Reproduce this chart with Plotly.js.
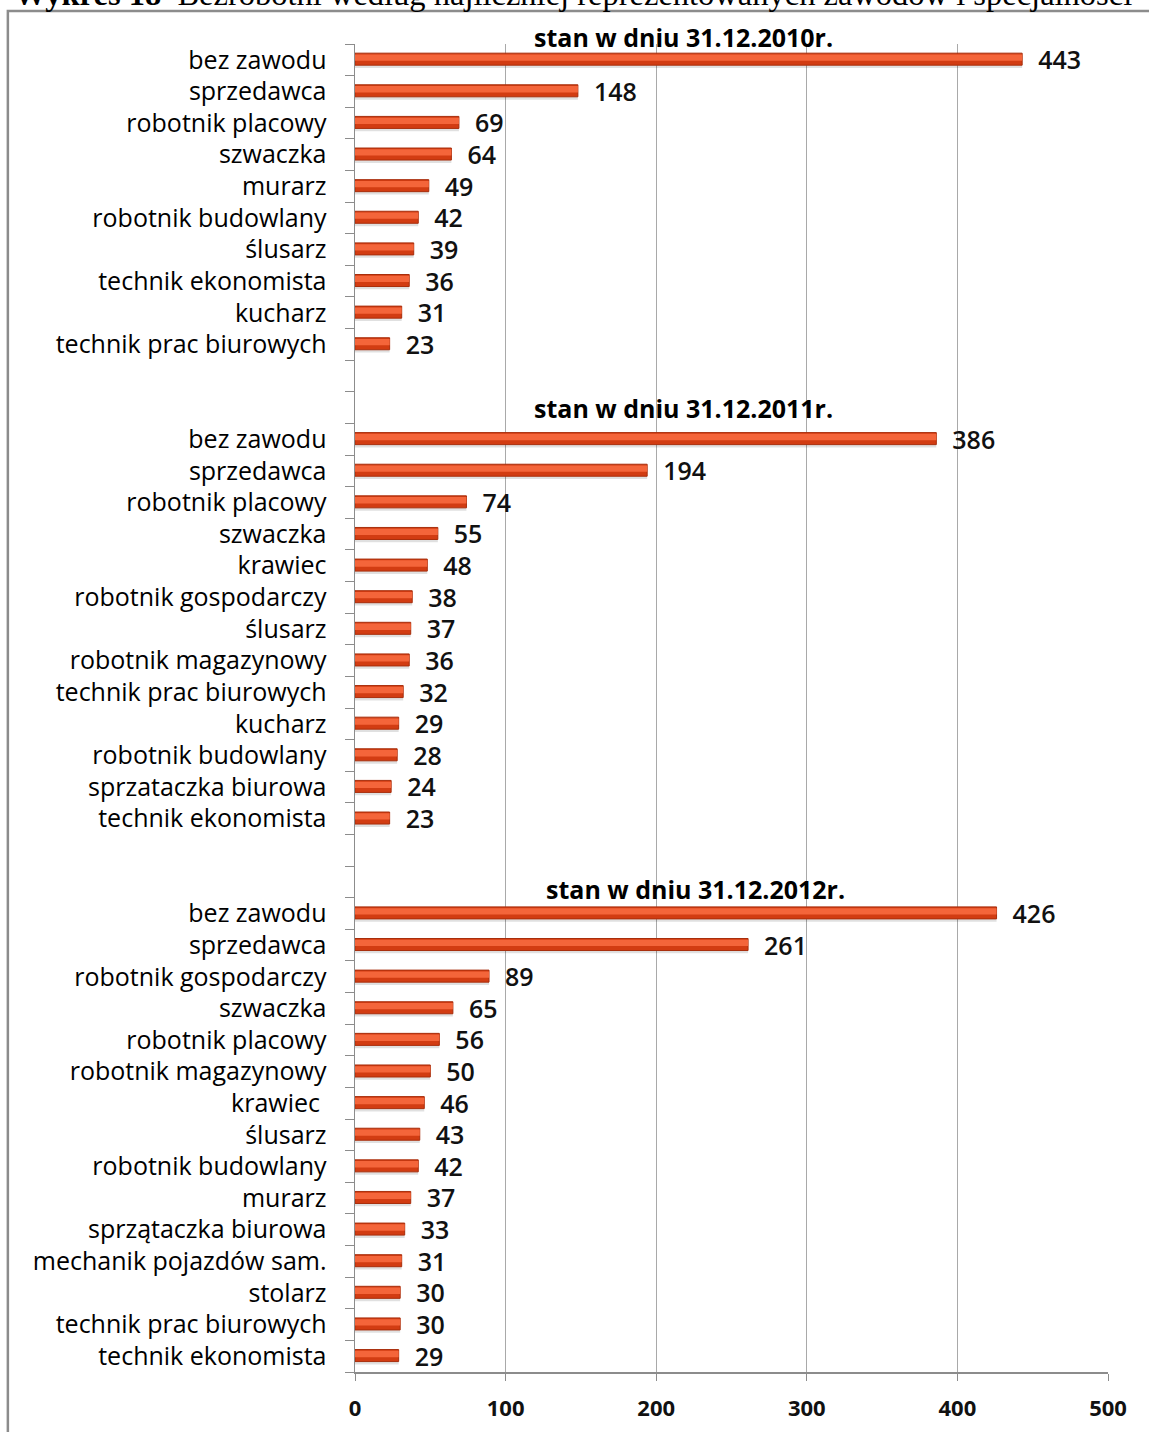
<!DOCTYPE html>
<html>
<head>
<meta charset="utf-8">
<script src="https://cdn.plot.ly/plotly-3.0.1.min.js"></script>
<style>
  html, body { margin: 0; padding: 0; background: #ffffff; }
  #chart { width: 1149px; height: 1432px; }
</style>
</head>
<body>
<div id="chart"></div>
<script>
  const blockTitles = [
    "stan w dniu 31.12.2010r.",
    "stan w dniu 31.12.2011r.",
    "stan w dniu 31.12.2012r."
  ];

  const occ2010 = ["bez zawodu", "sprzedawca", "robotnik placowy", "szwaczka", "murarz",
    "robotnik budowlany", "ślusarz", "technik ekonomista", "kucharz", "technik prac biurowych"];
  const val2010 = [443, 148, 69, 64, 49, 42, 39, 36, 31, 23];

  const occ2011 = ["bez zawodu", "sprzedawca", "robotnik placowy", "szwaczka", "krawiec",
    "robotnik gospodarczy", "ślusarz", "robotnik magazynowy", "technik prac biurowych",
    "kucharz", "robotnik budowlany", "sprzataczka biurowa", "technik ekonomista"];
  const val2011 = [386, 194, 74, 55, 48, 38, 37, 36, 32, 29, 28, 24, 23];

  const occ2012 = ["bez zawodu", "sprzedawca", "robotnik gospodarczy", "szwaczka",
    "robotnik placowy", "robotnik magazynowy", "krawiec ", "ślusarz", "robotnik budowlany",
    "murarz", "sprzątaczka biurowa", "mechanik pojazdów sam.", "stolarz",
    "technik prac biurowych", "technik ekonomista"];
  const val2012 = [426, 261, 89, 65, 56, 50, 46, 43, 42, 37, 33, 31, 30, 30, 29];

  const xTicks = [0, 100, 200, 300, 400, 500];
  const gapRows = 2;

  const blocks = [
    { names: occ2010, values: val2010 },
    { names: occ2011, values: val2011 },
    { names: occ2012, values: val2012 }
  ];

  // lay the three periods out on one numeric category axis, with empty rows between
  const rowY = [];
  const rowX = [];
  const tickVals = [];
  const tickText = [];
  const blockStart = [];
  let row = 0;
  blocks.forEach((b, bi) => {
    if (bi > 0) row += gapRows;
    blockStart.push(row);
    b.names.forEach((name, i) => {
      rowY.push(row);
      rowX.push(b.values[i]);
      tickVals.push(row);
      tickText.push(name);
      row++;
    });
  });
  const nRows = row;

  const labelFont = { family: "Open Sans, sans-serif", size: 25, color: "#000000", weight: 500 };

  const shadow = {
    type: "bar", orientation: "h",
    x: rowX, y: rowY,
    width: 0.38, offset: -0.12,
    marker: { color: "rgba(0,0,0,0.12)", line: { width: 0 } },
    hoverinfo: "skip", showlegend: false
  };

  const bars = {
    type: "bar", orientation: "h",
    x: rowX, y: rowY,
    width: 0.38, offset: -0.21,
    marker: { color: "#d23c12", line: { color: "#a82e0c", width: 1 } },
    text: rowX.map(v => "\u00a0\u00a0" + v),
    textposition: "outside",
    constraintext: "none",
    cliponaxis: false,
    textfont: { family: "Open Sans, sans-serif", size: 25, color: "#111111", weight: 600 },
    hovertemplate: "%{x}<extra></extra>",
    showlegend: false
  };

  const shine = {
    type: "bar", orientation: "h",
    x: rowX, y: rowY,
    width: 0.2, offset: -0.17,
    marker: { color: "#f4653a", line: { width: 0 } },
    hoverinfo: "skip", showlegend: false
  };

  // period headings sit on the empty rows (first one above the plot area)
  const rowToPaper = r => 1 - (r + 0.5) / nRows;
  const titleOffsets = [-0.72, -1.0, -0.76];
  const titleX = [218, 218, 226];
  const annotations = blockTitles.map((t, i) => ({
    text: "<b>" + t + "</b>",
    x: titleX[i], y: rowToPaper(blockStart[i] + titleOffsets[i]),
    xref: "x", yref: "paper",
    xanchor: "center", yanchor: "middle",
    showarrow: false,
    font: { family: "Open Sans, sans-serif", size: 25, color: "#000000" }
  }));

  // page heading, mostly cut off by the top edge like in the scan
  annotations.push({
    text: "<b>Wykres 18</b>  Bezrobotni według najliczniej reprezentowanych zawodów i specjalności",
    xref: "paper", yref: "paper",
    x: -0.455, y: 1.0,
    xanchor: "left", yanchor: "bottom",
    yshift: 30,
    showarrow: false,
    font: { family: "Liberation Serif, Times New Roman, serif", size: 32.5, color: "#000000" }
  });

  const layout = {
    width: 1149,
    height: 1432,
    margin: { l: 355, r: 41, t: 44, b: 60 },
    paper_bgcolor: "#ffffff",
    plot_bgcolor: "#ffffff",
    barmode: "overlay",
    showlegend: false,
    xaxis: {
      range: [0, 500],
      tickvals: xTicks,
      ticktext: xTicks.map(String),
      showgrid: true,
      gridcolor: "#a9a9a9",
      gridwidth: 1,
      zeroline: false,
      showline: true,
      linecolor: "#8c8c8c",
      linewidth: 1.5,
      ticks: "outside",
      ticklen: 7,
      tickcolor: "#8c8c8c",
      ticklabelstandoff: 9,
      tickfont: { family: "Open Sans, sans-serif", size: 22, color: "#111111", weight: 700 }
    },
    yaxis: {
      range: [nRows - 0.5, -0.5],
      tickvals: tickVals,
      ticktext: tickText,
      ticks: "",
      showgrid: false,
      zeroline: false,
      showline: true,
      linecolor: "#8c8c8c",
      linewidth: 1.5,
      ticklabelstandoff: 22,
      tickfont: labelFont,
      minor: {
        tickmode: "linear",
        tick0: -0.5,
        dtick: 1,
        ticks: "outside",
        ticklen: 9,
        tickcolor: "#8c8c8c",
        showgrid: false
      }
    },
    annotations: annotations,
    shapes: [{
      type: "rect",
      xref: "paper", yref: "paper",
      x0: -0.461, x1: 1.08, y0: -0.2, y1: 1.0248,
      line: { color: "#8c8c8c", width: 2.5 },
      fillcolor: "rgba(0,0,0,0)",
      layer: "below"
    }]
  };

  Plotly.newPlot("chart", [shadow, bars, shine], layout, { staticPlot: true, displaylogo: false });
</script>
</body>
</html>
